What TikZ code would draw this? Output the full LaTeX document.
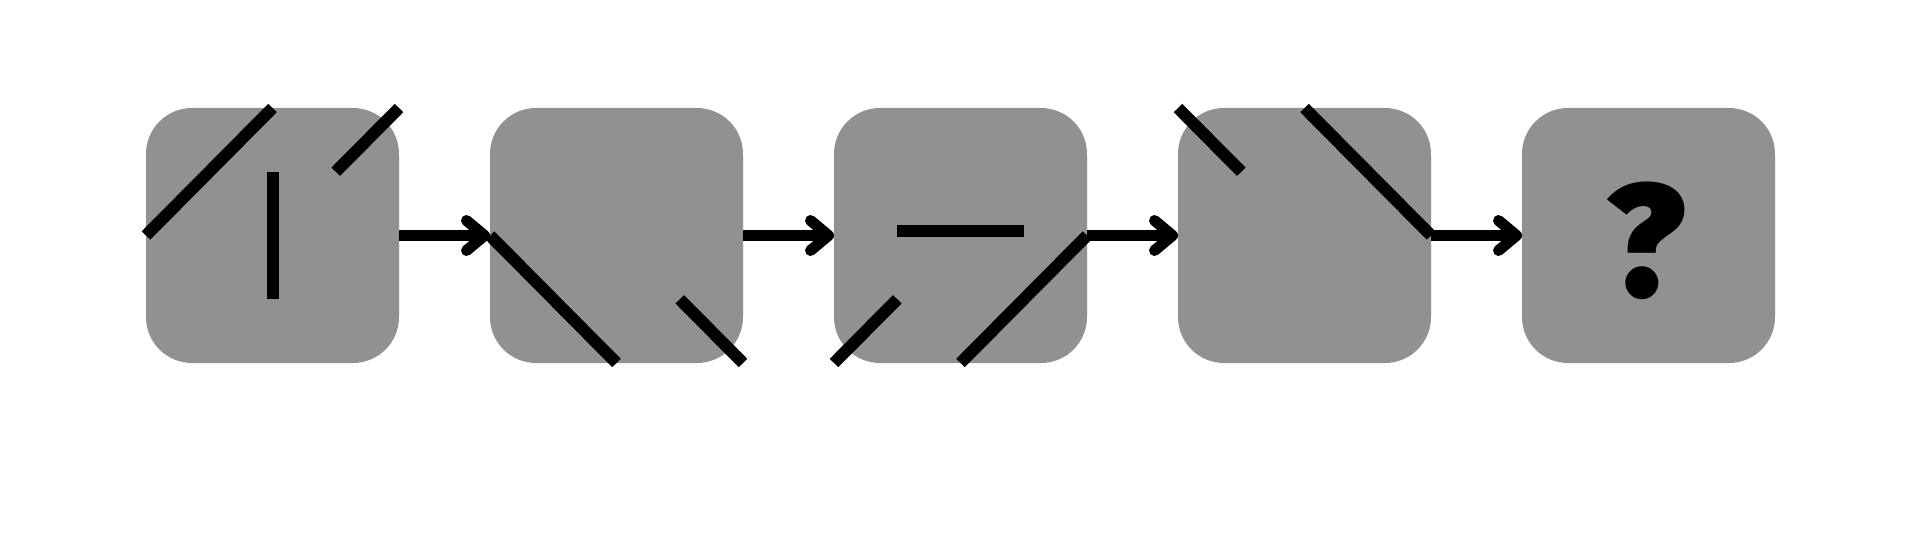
\documentclass[tikz,border=0pt]{standalone}
\usepackage{fontspec}
\newfontfamily\qfont{Fira Sans}[UprightFont=* Black]
\usetikzlibrary{calc,arrows.meta}
\definecolor{boxgray}{RGB}{145,145,145}
\begin{document}
\begin{tikzpicture}[x=0.5pt,y=-0.5pt,
  cell/.style={fill=boxgray,draw=none,rounded corners=23pt,inner sep=0pt,outer sep=0pt,
    minimum width=126.5pt,minimum height=127.5pt},
  stroke/.style={draw=black,line width=6pt,line cap=butt},
  link/.style={draw=black,line width=5.5pt,-{Straight Barb[length=9pt,width=15pt,round]}},
  qmark/.style={font=\qfont\fontsize{80pt}{80pt}\selectfont,inner sep=0pt}]
\useasboundingbox (0,0) rectangle (1920,540);
\node[cell] (b1) at (272.5,235.5) {};
\node[cell] (b2) at (616.5,235.5) {};
\node[cell] (b3) at (960.5,235.5) {};
\node[cell] (b4) at (1304.5,235.5) {};
\node[cell] (b5) at (1648.5,235.5) {};
\node[qmark] (q) at (1646.5,240.5) {?};
% box 1
\draw[stroke] (b1.west) -- (b1.north);
\draw[stroke] ($(b1.center)!.5!(b1.north east)$) -- (b1.north east);
\draw[stroke] ($(b1.center)!.5!(b1.north)$) -- ($(b1.center)!.5!(b1.south)$);
% box 2
\draw[stroke] (b2.west) -- (b2.south);
\draw[stroke] ($(b2.center)!.5!(b2.south east)$) -- (b2.south east);
% box 3
\draw[stroke] ([yshift=2.5pt]$(b3.center)!.5!(b3.west)$) -- ([yshift=2.5pt]$(b3.center)!.5!(b3.east)$);
\draw[stroke] (b3.south west) -- ($(b3.center)!.5!(b3.south west)$);
\draw[stroke] (b3.south) -- (b3.east);
% box 4
\draw[stroke] (b4.north west) -- ($(b4.center)!.5!(b4.north west)$);
\draw[stroke] (b4.north) -- (b4.east);
% arrows
\draw[link] (b1.east) -- (b2.west);
\draw[link] (b2.east) -- (b3.west);
\draw[link] (b3.east) -- (b4.west);
\draw[link] (b4.east) -- (b5.west);
\end{tikzpicture}
\end{document}
